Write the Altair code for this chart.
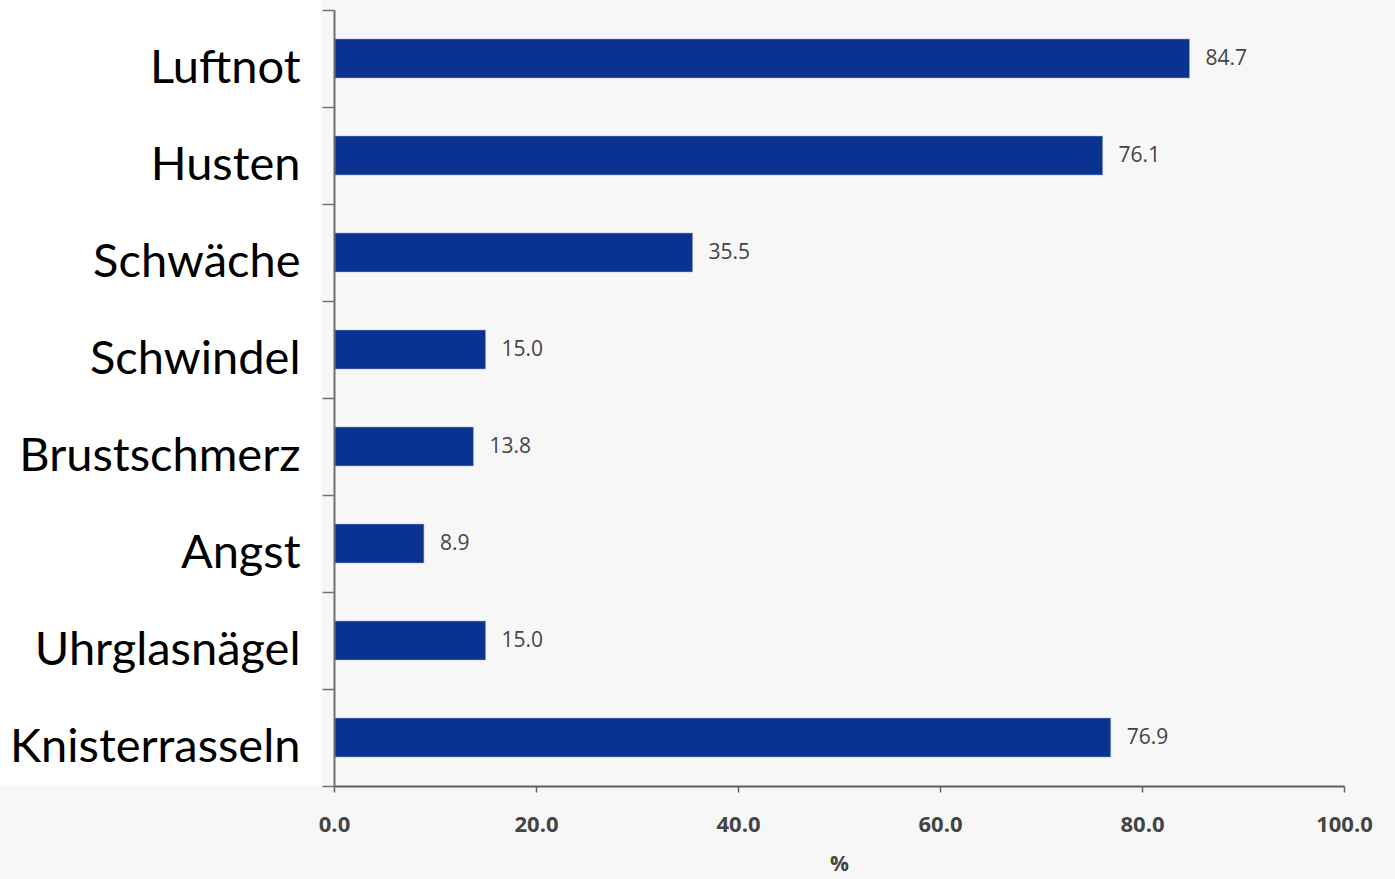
import altair as alt
import pandas as pd

categories = ["Luftnot", "Husten", "Schwäche", "Schwindel", "Brustschmerz", "Angst", "Uhrglasnägel", "Knisterrasseln"]
values = [84.7, 76.1, 35.5, 15.0, 13.8, 8.9, 15.0, 76.9]
x_ticks = [0, 20, 40, 60, 80, 100]

df = pd.DataFrame({"cat": categories, "val": values})
df["lab"] = df["val"].map(lambda v: f"{v:.1f}")

W, H = 1010, 776

bg = alt.Chart(df).mark_rect(color="white", clip=False).encode(
    x=alt.value(-334), x2=alt.value(-12), y=alt.value(-10), y2=alt.value(H)
)

y_enc = alt.Y("cat:N", sort=categories, title=None,
              scale=alt.Scale(paddingInner=0, paddingOuter=0),
              axis=alt.Axis(tickBand="extent", tickSize=12, labelPadding=22, labelOffset=10,
                            labelFont="Lato", labelFontSize=47, labelColor="black",
                            domainColor="#707070", tickColor="#707070",
                            domainWidth=2, tickWidth=1.5, labelLimit=400, zindex=2))
x_enc = alt.X("val:Q", title="%",
              scale=alt.Scale(domain=[0, 100], nice=False),
              axis=alt.Axis(values=x_ticks, format=".1f", grid=False,
                            tickSize=6, labelPadding=22, labelFlush=False,
                            labelFont="Open Sans", labelFontSize=22, labelFontWeight="bold",
                            labelColor="#444444", domainColor="#606060", tickColor="#606060",
                            domainWidth=2, tickWidth=1.5,
                            titleFont="Open Sans", titleFontSize=21, titleFontWeight="bold",
                            titleColor="#444444", titlePadding=18, zindex=2))

bars = alt.Chart(df).mark_bar(color="#0a3391", stroke="#8fa0c8", strokeWidth=0.5,
                              height={"band": 0.4}).encode(
    x=x_enc, y=y_enc
)
texts = alt.Chart(df).mark_text(align="left", dx=16, font="Open Sans", fontSize=21,
                                color="#444444").encode(
    x="val:Q", y=alt.Y("cat:N", sort=categories), text="lab:N"
)

chart = alt.layer(bg, bars, texts).properties(
    width=W, height=H,
    background="#f7f7f7",
    padding={"left": 334, "top": 10, "right": 51, "bottom": 93},
    autosize=alt.AutoSizeParams(type="none"),
).configure_view(stroke=None)

chart.save("out.html", embed_options={"renderer": "svg", "actions": False})
